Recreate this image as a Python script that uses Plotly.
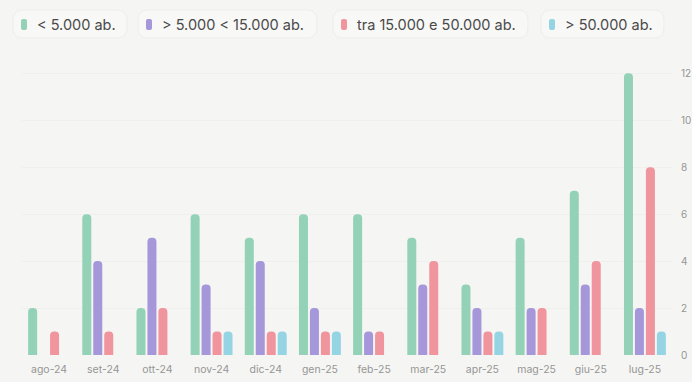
import plotly.graph_objects as go

months = ["ago-24", "set-24", "ott-24", "nov-24", "dic-24", "gen-25",
          "feb-25", "mar-25", "apr-25", "mag-25", "giu-25", "lug-25"]

series_names = ["< 5.000 ab.", "> 5.000 < 15.000 ab.",
                "tra 15.000 e 50.000 ab.", "> 50.000 ab."]

under_5k = [2, 6, 2, 6, 5, 6, 6, 5, 3, 5, 7, 12]
from_5k_to_15k = [0, 4, 5, 3, 4, 2, 1, 3, 2, 2, 3, 2]
from_15k_to_50k = [1, 1, 2, 1, 1, 1, 1, 4, 1, 2, 4, 8]
over_50k = [0, 0, 0, 1, 1, 1, 0, 0, 1, 0, 0, 1]

series_values = [under_5k, from_5k_to_15k, from_15k_to_50k, over_50k]
y_ticks = [0, 2, 4, 6, 8, 10, 12]

colors = ["#93d2b6", "#a597d9", "#f0959d", "#95d5e3"]
bg = "#f5f5f3"
font_family = "Inter, Lato, sans-serif"

W, H = 692, 382
M = dict(l=22, r=20, t=71, b=27)
PW = W - M["l"] - M["r"]
PH = H - M["t"] - M["b"]


def px(x):
    return (x - M["l"]) / PW


def py(y):
    return (H - M["b"] - y) / PH


def rounded_rect(x0, y0, x1, y1, r):
    # rounded rectangle path in paper coordinates from pixel corners
    X0, X1 = px(x0), px(x1)
    Y0, Y1 = py(y1), py(y0)
    rx, ry = r / PW, r / PH
    return (f"M {X0 + rx},{Y0} L {X1 - rx},{Y0} Q {X1},{Y0} {X1},{Y0 + ry} "
            f"L {X1},{Y1 - ry} Q {X1},{Y1} {X1 - rx},{Y1} "
            f"L {X0 + rx},{Y1} Q {X0},{Y1} {X0},{Y1 - ry} "
            f"L {X0},{Y0 + ry} Q {X0},{Y0} {X0 + rx},{Y0} Z")


fig = go.Figure()
for name, vals, col in zip(series_names, series_values, colors):
    fig.add_trace(go.Bar(
        x=months, y=vals, name=name,
        marker=dict(color=col, cornerradius=4, line=dict(width=0)),
        showlegend=False,
    ))

# Legend chips across the top: (chip left, chip right) in pixels
chips = [(13, 127), (138, 317), (333, 528), (541, 664)]
shapes = []
annotations = []
for name, col, (c0, c1) in zip(series_names, colors, chips):
    shapes.append(dict(type="path", xref="paper", yref="paper",
                       path=rounded_rect(c0, 10, c1, 38, 10),
                       fillcolor="#f8f8f7", line=dict(color="#ededeb", width=1),
                       layer="below"))
    shapes.append(dict(type="path", xref="paper", yref="paper",
                       path=rounded_rect(c0 + 8, 19, c0 + 14, 30, 2),
                       fillcolor=col, line=dict(width=0)))
    annotations.append(dict(text=name, xref="paper", yref="paper",
                            x=px(c0 + 22), y=py(24.5), xanchor="left", yanchor="middle",
                            showarrow=False,
                            font=dict(family=font_family, size=14.5, color="#4a4a4a")))

fig.update_layout(
    width=W, height=H,
    margin=M,
    paper_bgcolor=bg, plot_bgcolor=bg,
    barmode="group", bargap=0.19, bargroupgap=0.18,
    shapes=shapes, annotations=annotations,
    font=dict(family=font_family, size=10, color="#959595"),
    xaxis=dict(showgrid=False, showline=False, zeroline=False, ticks="",
               ticklabelstandoff=6, automargin=False,
               tickfont=dict(size=10.5, color="#959595")),
    yaxis=dict(side="right", range=[0, 12.1], tickvals=y_ticks,
               showgrid=True, gridcolor="#efefed", gridwidth=1,
               zeroline=False, showline=False, ticks="",
               ticklabelstandoff=8, automargin=False,
               tickfont=dict(size=10, color="#959595")),
)

fig.write_html("out.html")
